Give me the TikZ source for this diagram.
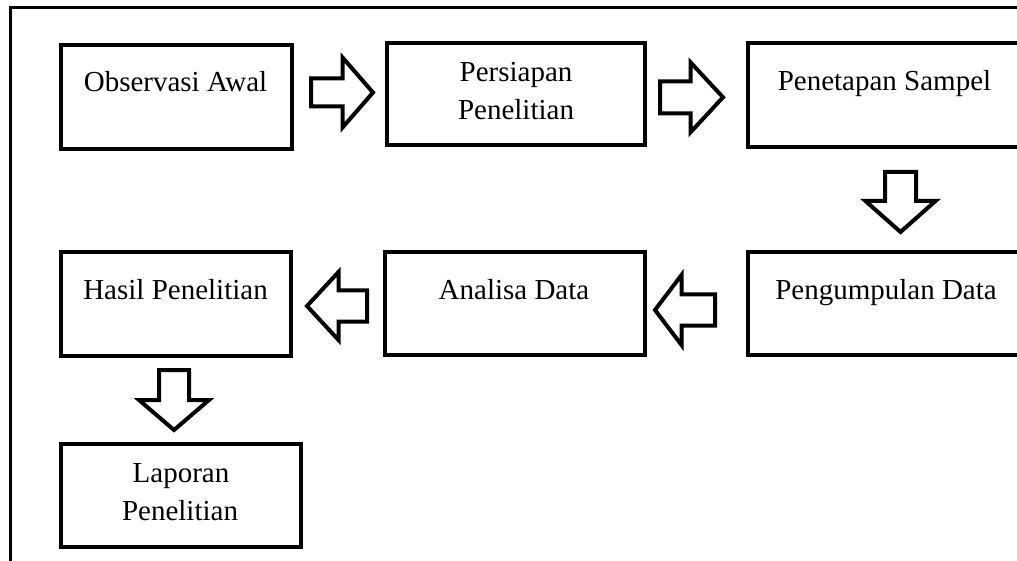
\documentclass[tikz,border=0pt]{standalone}
\usepackage{fontspec}
\setmainfont{Liberation Serif}
\usetikzlibrary{calc}
\newcommand\blockarr[7]{%
  % #1,#2 tail centre; #3 angle; #4 shaft half width; #5 shaft length; #6 total length; #7 head half width
  \draw[blk, shift={(#1,#2)}, rotate=#3]
    (0,-#4) -- (#5,-#4) -- (#5,-#7) -- (#6,0) -- (#5,#7) -- (#5,#4) -- (0,#4) -- cycle;}
\begin{document}
\begin{tikzpicture}[x=1pt,y=-1pt,
  box/.style={draw=black, line width=4pt, fill=white, rectangle, inner sep=0pt},
  blk/.style={draw=black, line width=4pt, fill=white, line join=miter},
  frameline/.style={draw=black, line width=3pt},
  txt/.style={anchor=base, inner sep=0pt, font=\fontsize{29pt}{37pt}\selectfont}]
\useasboundingbox (0,0) rectangle (1017,561);
\clip (0,0) rectangle (1017,561);
\fill[white] (0,0) rectangle (1017,561);
% frame
\coordinate (fl) at (10.5,561);
\coordinate (fc) at (10.5,7.5);
\coordinate (fr) at (1020,7.5);
\draw[frameline] (fl) -- (fc) -- (fr);
% boxes
\node[box, minimum width=231pt, minimum height=104pt] (b1) at (176.5,97) {};
\node[box, minimum width=258pt, minimum height=102pt] (b2) at (516,94) {};
\node[box, minimum width=274pt, minimum height=104pt] (b3) at (885,95) {};
\node[box, minimum width=274pt, minimum height=103pt] (b4) at (885,303.5) {};
\node[box, minimum width=260pt, minimum height=103pt] (b5) at (515,303.5) {};
\node[box, minimum width=230pt, minimum height=104pt] (b6) at (176,304) {};
\node[box, minimum width=240pt, minimum height=103pt] (b7) at (181,495.5) {};
% texts
\node[txt] (t1) at (175.5,92) {Observasi Awal};
\node[txt] (t2a) at (516,82) {Persiapan};
\node[txt] (t2b) at (516,119.5) {Penelitian};
\node[txt] (t3) at (884.5,90.5) {Penetapan Sampel};
\node[txt] (t4) at (886,299) {Pengumpulan Data};
\node[txt] (t5) at (514,300) {Analisa Data};
\node[txt] (t6) at (175.5,299) {Hasil Penelitian};
\node[txt] (t7a) at (181,482) {Laporan};
\node[txt] (t7b) at (180,520) {Penelitian};
% block arrows
\blockarr{311}{92.5}{0}{14}{31.5}{62}{35}
\blockarr{660}{97.3}{0}{16}{30.5}{63}{35}
\blockarr{900.5}{172}{-90}{15.5}{29}{60}{35}
\blockarr{715}{310}{180}{15.5}{33.5}{60}{35}
\blockarr{367}{306}{180}{15.5}{28.5}{60}{34}
\blockarr{174}{370}{-90}{15}{30}{60}{35}
\end{tikzpicture}
\end{document}
